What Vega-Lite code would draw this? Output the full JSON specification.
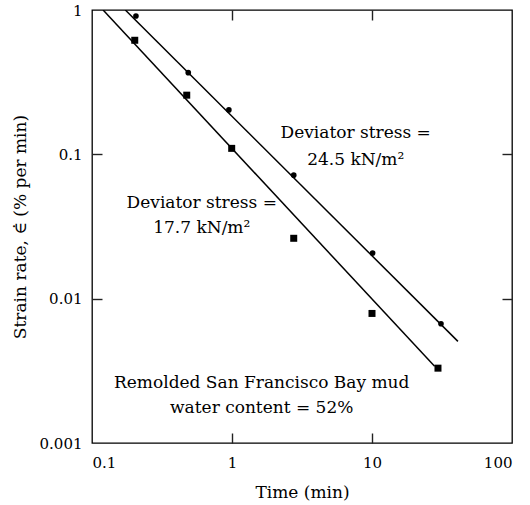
{
  "$schema": "https://vega.github.io/schema/vega-lite/v6.json",
  "width": 420,
  "height": 433,
  "autosize": {"type": "none"},
  "padding": {"left": 92, "top": 10, "right": 18, "bottom": 62},
  "background": "white",
  "config": {
    "view": {"stroke": "black", "strokeWidth": 1.3},
    "font": "DejaVu Serif",
    "axis": {
      "domain": false,
      "grid": false,
      "labelFont": "DejaVu Serif",
      "labelFontSize": 15,
      "labelColor": "black",
      "titleFont": "DejaVu Serif",
      "titleFontSize": 17,
      "titleFontWeight": "normal",
      "titleColor": "black"
    }
  },
  "datasets": {
    "lines": [
      {"stress": "24.5", "time": 0.173, "rate": 1.0},
      {"stress": "24.5", "time": 41.1, "rate": 0.00506},
      {"stress": "17.7", "time": 0.12, "rate": 1.0},
      {"stress": "17.7", "time": 28.0, "rate": 0.0034}
    ],
    "points": [
      {"stress": "24.5", "time": 0.206, "rate": 0.909},
      {"stress": "24.5", "time": 0.487, "rate": 0.368},
      {"stress": "24.5", "time": 0.95, "rate": 0.203},
      {"stress": "24.5", "time": 2.76, "rate": 0.0717},
      {"stress": "24.5", "time": 10.1, "rate": 0.0207},
      {"stress": "24.5", "time": 31.1, "rate": 0.0067},
      {"stress": "17.7", "time": 0.202, "rate": 0.617},
      {"stress": "17.7", "time": 0.475, "rate": 0.257},
      {"stress": "17.7", "time": 0.995, "rate": 0.11},
      {"stress": "17.7", "time": 2.76, "rate": 0.0262},
      {"stress": "17.7", "time": 10.0, "rate": 0.0079},
      {"stress": "17.7", "time": 29.6, "rate": 0.0033}
    ],
    "notes": [
      {"time": 7.65, "rate": 0.1406, "label": "Deviator stress ="},
      {"time": 7.65, "rate": 0.0915, "label": "24.5 kN/m²"},
      {"time": 0.608, "rate": 0.0461, "label": "Deviator stress ="},
      {"time": 0.608, "rate": 0.0309, "label": "17.7 kN/m²"},
      {"time": 1.63, "rate": 0.00261, "label": "Remolded San Francisco Bay mud"},
      {"time": 1.63, "rate": 0.001754, "label": "water content = 52%"}
    ]
  },
  "layer": [
    {
      "data": {"name": "lines"},
      "mark": {"type": "line", "color": "black", "strokeWidth": 1.5, "clip": true},
      "encoding": {
        "x": {
          "field": "time", "type": "quantitative",
          "scale": {"type": "log", "domain": [0.1, 100], "nice": false},
          "axis": {"orient": "bottom", "values": [0.1, 1, 10, 100], "format": "~g", "ticks": false, "labelPadding": 12, "title": "Time (min)", "titleFontWeight": "normal", "titlePadding": 14}
        },
        "y": {
          "field": "rate", "type": "quantitative",
          "scale": {"type": "log", "domain": [0.001, 1], "nice": false},
          "axis": {"orient": "left", "values": [0.001, 0.01, 0.1, 1], "format": "~g", "ticks": false, "labelPadding": 10, "title": "Strain rate, ∈̇ (% per min)", "titleFontWeight": "normal", "titlePadding": 10}
        },
        "detail": {"field": "stress"}
      }
    },
    {
      "data": {"name": "points"},
      "mark": {"type": "point", "filled": true, "color": "black", "opacity": 1},
      "encoding": {
        "x": {
          "field": "time", "type": "quantitative",
          "scale": {"type": "log", "domain": [0.1, 100], "nice": false},
          "axis": {"orient": "top", "values": [1, 10], "labels": false, "title": null, "offset": -10, "ticks": true, "tickSize": 10, "tickColor": "#222222", "tickWidth": 1.4}
        },
        "y": {
          "field": "rate", "type": "quantitative",
          "scale": {"type": "log", "domain": [0.001, 1], "nice": false},
          "axis": {"orient": "right", "values": [0.01, 0.1], "labels": false, "title": null, "offset": -10, "ticks": true, "tickSize": 10, "tickColor": "#222222", "tickWidth": 1.4}
        },
        "shape": {"field": "stress", "type": "nominal", "scale": {"domain": ["24.5", "17.7"], "range": ["circle", "square"]}, "legend": null},
        "size": {"field": "stress", "type": "nominal", "scale": {"domain": ["24.5", "17.7"], "range": [32, 49]}, "legend": null}
      }
    },
    {
      "data": {"name": "notes"},
      "mark": {"type": "text", "fontSize": 17, "font": "DejaVu Serif", "color": "black", "align": "center", "baseline": "middle"},
      "encoding": {
        "x": {
          "field": "time", "type": "quantitative",
          "scale": {"type": "log", "domain": [0.1, 100], "nice": false},
          "axis": {"orient": "bottom", "values": [1, 10], "labels": false, "title": null, "offset": -10, "ticks": true, "tickSize": 10, "tickColor": "#222222", "tickWidth": 1.4}
        },
        "y": {
          "field": "rate", "type": "quantitative",
          "scale": {"type": "log", "domain": [0.001, 1], "nice": false},
          "axis": {"orient": "left", "values": [0.01, 0.1], "labels": false, "title": null, "offset": -10, "ticks": true, "tickSize": 10, "tickColor": "#222222", "tickWidth": 1.4}
        },
        "text": {"field": "label"}
      }
    }
  ],
  "resolve": {"axis": {"x": "independent", "y": "independent"}}
}
